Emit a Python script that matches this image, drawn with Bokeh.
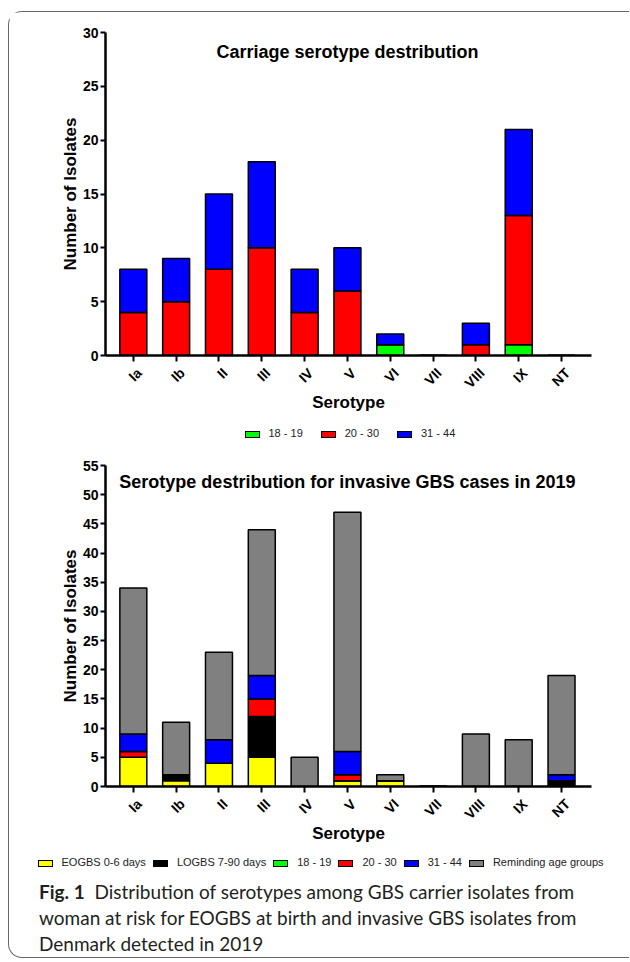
import math
from bokeh.plotting import figure
from bokeh.models import (ColumnDataSource, Label, FixedTicker, Div, Range1d, LinearAxis)
from bokeh.layouts import column
from bokeh.embed import file_html
from bokeh.resources import INLINE

serotypes = ["Ia", "Ib", "II", "III", "IV", "V", "VI", "VII", "VIII", "IX", "NT"]

# Carriage serotype distribution (age groups of women)
car_18_19 = [0, 0, 0, 0, 0, 0, 1, 0, 0, 1, 0]
car_20_30 = [4, 5, 8, 10, 4, 6, 0, 0, 1, 12, 0]
car_31_44 = [4, 4, 7, 8, 4, 4, 1, 0, 2, 8, 0]
car_labels = ["18 - 19", "20 - 30", "31 - 44"]
car_colors = ["#00FF00", "#FF0000", "#0000FF"]

# Invasive GBS cases 2019
inv_eogbs = [5, 1, 4, 5, 0, 1, 1, 0, 0, 0, 0]
inv_logbs = [0, 1, 0, 7, 0, 0, 0, 0, 0, 0, 1]
inv_18_19 = [0, 0, 0, 0, 0, 0, 0, 0, 0, 0, 0]
inv_20_30 = [1, 0, 0, 3, 0, 1, 0, 0, 0, 0, 0]
inv_31_44 = [3, 0, 4, 4, 0, 4, 0, 0, 0, 0, 1]
inv_rest = [25, 9, 15, 25, 5, 41, 1, 0, 9, 8, 17]
inv_labels = ["EOGBS 0-6 days", "LOGBS 7-90 days", "18 - 19", "20 - 30", "31 - 44",
              "Reminding age groups"]
inv_colors = ["#FFFF00", "#000000", "#00FF00", "#FF0000", "#0000FF", "#808080"]

FONT = "Liberation Sans"
LABEL_SHIFT = 0.14
FIG_W = 620


def make_chart(stacks, colors, title, title_y, ymax, height, top, bottom):
    xs = list(range(len(serotypes)))
    data = {"x": xs}
    names = []
    for i, s in enumerate(stacks):
        data["s%d" % i] = s
        names.append("s%d" % i)
    src = ColumnDataSource(data)
    p = figure(width=FIG_W, height=height, x_range=Range1d(-0.65, 10.7),
               y_range=Range1d(0, ymax), output_backend="svg", toolbar_location=None,
               min_border_left=96, min_border_right=38, min_border_top=top,
               min_border_bottom=bottom)
    p.vbar_stack(names, x="x", width=0.63, fill_color=colors, line_color="black",
                 line_width=1.5, source=src)
    p.grid.visible = False
    p.outline_line_color = None

    for ax in (p.xaxis[0], p.yaxis[0]):
        ax.axis_line_width = 2.5
        ax.major_tick_line_width = 2
        ax.major_tick_in = 0
        ax.minor_tick_line_color = None
        ax.major_label_text_font = FONT
        ax.major_label_text_font_style = "bold"
        ax.major_label_text_font_size = "14px"
        ax.major_label_text_color = "black"
        ax.axis_label_text_font = FONT
        ax.axis_label_text_font_style = "bold"
        ax.axis_label_text_font_size = "17px"
        ax.axis_label_text_color = "black"
    # tick axis: line and tick marks only
    p.xaxis.ticker = FixedTicker(ticks=xs)
    p.xaxis.major_tick_out = 6
    p.xaxis.major_label_text_font_size = "1px"
    p.xaxis.major_label_text_color = None
    p.xaxis.major_label_standoff = 0
    p.yaxis.ticker = FixedTicker(ticks=list(range(0, ymax + 1, 5)))
    p.yaxis.major_tick_out = 5
    p.yaxis.major_label_standoff = 2
    p.yaxis.axis_label = "Number of Isolates"
    p.yaxis.axis_label_standoff = 0

    # label axis (rotated serotype names) stacked under the tick axis
    lab_ticks = [round(i + LABEL_SHIFT, 2) for i in xs]
    lab_axis = LinearAxis(ticker=FixedTicker(ticks=lab_ticks),
                          major_label_overrides={t: s for t, s in zip(lab_ticks, serotypes)},
                          major_label_orientation=math.pi / 4,
                          axis_line_color=None, major_tick_line_color=None,
                          minor_tick_line_color=None, major_tick_out=0, major_tick_in=0,
                          major_label_standoff=9,
                          major_label_text_font=FONT, major_label_text_font_style="bold",
                          major_label_text_font_size="14px", major_label_text_color="black",
                          axis_label="Serotype", axis_label_standoff=-7,
                          axis_label_text_font=FONT, axis_label_text_font_style="bold",
                          axis_label_text_font_size="17px", axis_label_text_color="black")
    p.add_layout(lab_axis, "below")

    p.add_layout(Label(x=5, y=title_y, text=title, text_align="center",
                       text_baseline="middle", text_font=FONT, text_font_style="bold",
                       text_font_size="18px", text_color="black"))
    return p


def make_legend(labels, colors, pad_left, spacing, height=20):
    parts = []
    for lab, col in zip(labels, colors):
        parts.append(
            '<span style="display:inline-block; box-sizing:border-box; width:15px; height:7px; '
            'border:1.5px solid #000; background:%s; margin-right:9px;"></span>'
            '<span style="margin-right:%dpx; white-space:nowrap;">%s</span>' % (col, spacing, lab))
    html = ('<div style="display:flex; align-items:center; height:%dpx; padding-left:%.1fpx; '
            'font-family:\'Liberation Sans\', Arial, sans-serif; font-size:11px; color:#222; '
            'white-space:nowrap;">%s</div>' % (height, pad_left, "".join(parts)))
    return Div(width=FIG_W, height=height, margin=(0, 0, 0, 0), text=html)


p1 = make_chart([car_18_19, car_20_30, car_31_44], car_colors,
                "Carriage serotype destribution", 28.2, 30, 412, 20, 69)
l1 = make_legend(car_labels, car_colors, 235.5, 18)

p2 = make_chart([inv_eogbs, inv_logbs, inv_18_19, inv_20_30, inv_31_44, inv_rest], inv_colors,
                "Serotype destribution for invasive GBS cases in 2019", 52.1, 55, 409, 21, 67)
l2 = make_legend(inv_labels, inv_colors, 28.5, 7)

cap = Div(width=FIG_W, height=84, margin=(0, 0, 0, 0),
          text=('<div style="font-family: Lato, sans-serif; font-size: 19px; line-height: 26px; '
                'padding-left: 30px; padding-top: 6px; color: #231f20; white-space: nowrap;">'
                '<b>Fig.&nbsp;1</b>&nbsp;&nbsp;Distribution of serotypes among GBS carrier isolates from<br>'
                'woman at risk for EOGBS at birth and invasive GBS isolates from<br>'
                'Denmark detected in 2019</div>'))

layout = column(p1, l1, p2, l2, cap, spacing=0, margin=(11, 0, 0, 8),
                styles={"border-top": "1.5px solid #666", "border-left": "1.5px solid #666",
                        "border-bottom": "1.5px solid #666",
                        "border-top-left-radius": "14px", "border-bottom-left-radius": "14px"})

open("out.html", "w").write(file_html(layout, INLINE))
